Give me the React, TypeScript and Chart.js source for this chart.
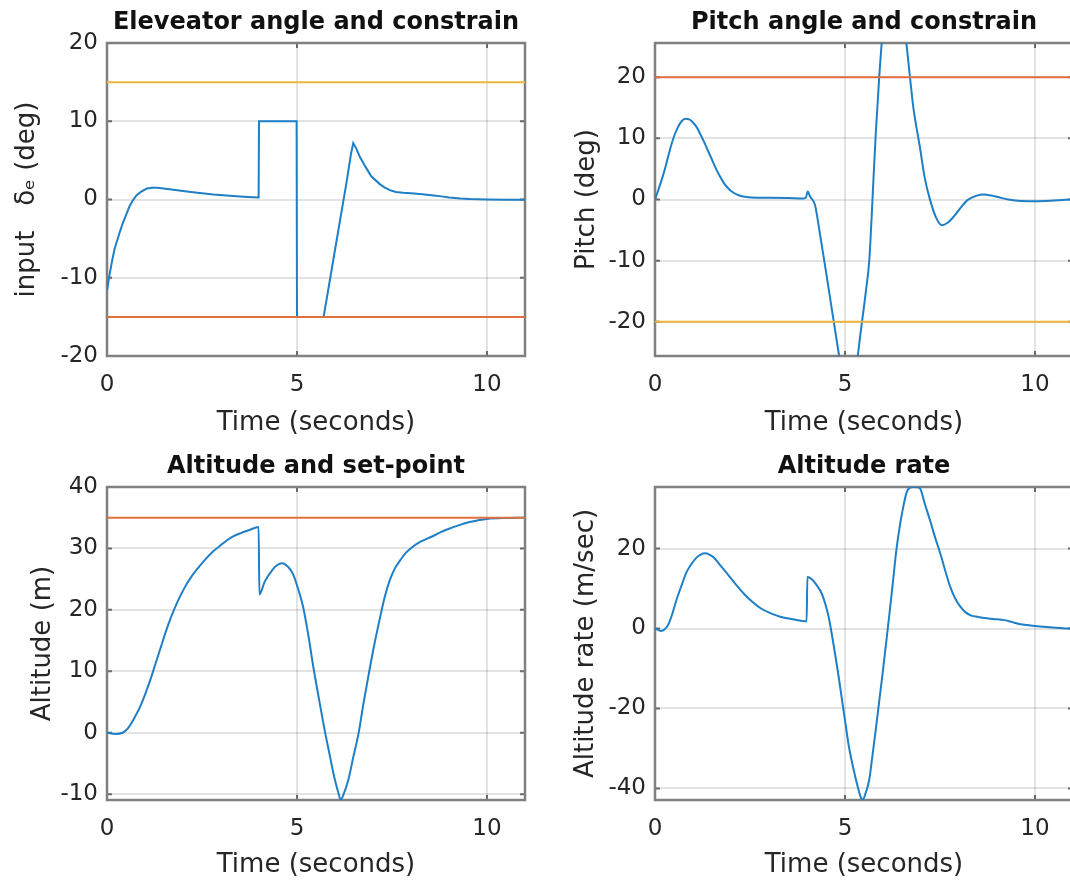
import React, { useEffect, useRef } from 'react';
import { Chart, registerables } from 'chart.js';

Chart.register(...registerables);

// ---------- shared axis data ----------
const X_MIN = 0;
const X_MAX = 11;
const xTickValues = [0, 5, 10];
const xAxisLabel = 'Time (seconds)';

// ---------- Elevator angle ----------
const elevTime = [
  0, 0.07, 0.14, 0.2, 0.27, 0.34, 0.41, 0.5, 0.59, 0.68,
  0.78, 0.9, 1.05, 1.2, 1.32, 1.6, 1.9, 2.15, 2.5, 2.8,
  3.06, 3.4, 3.7, 3.99, 4.0, 4.99, 5.0, 5.7, 6.0, 6.3,
  6.42, 6.48, 6.55, 6.65, 6.8, 6.95, 7.17, 7.3, 7.44, 7.6,
  7.8, 8.08, 8.3, 8.54, 8.8, 9.0, 9.3, 9.54, 10.0, 10.5,
  11.0,
];
const elevValues = [
  -11.6, -9.5, -7.7, -6.3, -5.2, -4.1, -3.1, -2.0, -0.9, -0.1,
  0.55, 1.0, 1.4, 1.5, 1.5, 1.35, 1.15, 1.0, 0.8, 0.65,
  0.55, 0.42, 0.32, 0.25, 10, 10, -15, -15, -6.45, 2.1,
  5.8, 7.2, 6.6, 5.5, 4.2, 3.0, 2.0, 1.55, 1.2, 0.95,
  0.85, 0.77, 0.68, 0.55, 0.4, 0.25, 0.12, 0.05, 0, -0.03,
  -0.02,
];
const elevUpper = 15;
const elevLower = -15;
const elevYTicks = [-20, -10, 0, 10, 20];

// ---------- Pitch angle ----------
const pitchTime = [
  0, 0.1, 0.2, 0.3, 0.4, 0.5, 0.6, 0.7, 0.8, 0.9,
  1.0, 1.1, 1.2, 1.3, 1.4, 1.5, 1.6, 1.7, 1.8, 1.9,
  2.0, 2.2, 2.4, 2.7, 3.0, 3.5, 3.9, 3.97, 4.02, 4.08,
  4.21, 4.35, 4.5, 4.65, 4.8, 4.95, 5.1, 5.25, 5.4, 5.55,
  5.64, 5.7, 5.75, 5.81, 5.9, 6.0, 6.15, 6.3, 6.45, 6.6,
  6.71, 6.8, 6.97, 7.1, 7.24, 7.4, 7.55, 7.7, 7.86, 8.05,
  8.22, 8.45, 8.66, 8.85, 9.02, 9.3, 9.55, 10.0, 10.4, 10.8,
  11.0,
];
const pitchValues = [
  0, 1.8, 3.7, 5.9, 8.3, 10.3, 11.8, 12.8, 13.2, 13.1,
  12.6, 11.8, 10.6, 9.3, 7.9, 6.5, 5.1, 3.9, 2.8, 2.0,
  1.4, 0.7, 0.4, 0.3, 0.3, 0.25, 0.15, 0.3, 1.3, 0.5,
  -0.9, -6.0, -11.8, -17.8, -23.8, -29.5, -34, -29.8, -22.3, -15,
  -9.9, -3, 3.5, 10.8, 20, 28, 35, 38, 34, 26.5,
  20, 15, 8.6, 3.5, -0.1, -3.0, -4.2, -3.8, -2.8, -1.3,
  -0.1, 0.6, 0.8, 0.65, 0.4, 0.0, -0.2, -0.27, -0.2, -0.05,
  0,
];
const pitchUpper = 20;
const pitchLower = -20;
const pitchYTicks = [-20, -10, 0, 10, 20];

// ---------- Altitude ----------
const altTime = [
  0, 0.23, 0.41, 0.55, 0.7, 0.87, 1.0, 1.14, 1.28, 1.42,
  1.55, 1.69, 1.87, 2.05, 2.23, 2.42, 2.6, 2.79, 2.97, 3.15,
  3.33, 3.52, 3.75, 3.99, 4.01, 4.15, 4.34, 4.48, 4.61, 4.75,
  4.89, 5.02, 5.16, 5.3, 5.43, 5.57, 5.71, 5.85, 5.98, 6.08,
  6.15, 6.22, 6.35, 6.48, 6.62, 6.75, 6.89, 7.03, 7.17, 7.3,
  7.44, 7.58, 7.72, 7.85, 7.99, 8.25, 8.54, 8.77, 9.0, 9.27,
  9.54, 9.77, 10.0, 10.5, 11.0,
];
const altValues = [
  0, -0.2, 0, 0.7, 2.2, 4.2, 6.2, 8.6, 11.3, 14.0,
  16.5, 18.9, 21.5, 23.7, 25.5, 27.0, 28.3, 29.5, 30.4, 31.3,
  32.0, 32.5, 33.0, 33.5, 22.5, 24.6, 26.4, 27.3, 27.6, 27.1,
  25.9, 23.6, 20.5, 15.8, 10.7, 5.8, 1.0, -3.3, -7.2, -9.6,
  -10.9, -10.1, -7.7, -4.0, -0.1, 4.8, 9.6, 14.2, 18.3, 21.9,
  24.8, 26.8, 28.1, 29.2, 30.0, 31.1, 31.9, 32.6, 33.2, 33.8,
  34.3, 34.6, 34.8, 34.95, 35.0,
];
const altSetPoint = 35;
const altYTicks = [-10, 0, 10, 20, 30, 40];

// ---------- Altitude rate ----------
const rateTime = [
  0, 0.16, 0.34, 0.45, 0.56, 0.7, 0.83, 0.97, 1.1, 1.2,
  1.32, 1.43, 1.54, 1.72, 1.9, 2.12, 2.34, 2.56, 2.79, 3.05,
  3.32, 3.63, 3.99, 4.01, 4.12, 4.25, 4.39, 4.48, 4.57, 4.66,
  4.75, 4.84, 4.92, 5.01, 5.1, 5.22, 5.33, 5.4, 5.46, 5.55,
  5.64, 5.72, 5.81, 5.9, 5.99, 6.08, 6.17, 6.26, 6.35, 6.44,
  6.53, 6.62, 6.7, 6.8, 6.9, 6.97, 7.1, 7.24, 7.37, 7.51,
  7.64, 7.77, 7.9, 8.04, 8.17, 8.31, 8.5, 8.66, 8.9, 9.2,
  9.4, 9.55, 9.8, 10.0, 10.4, 10.87, 11.0,
];
const rateValues = [
  0, -0.6, 0.8, 3.5, 7.0, 10.8, 14.1, 16.3, 17.8, 18.5,
  18.8, 18.5, 17.8, 15.8, 13.7, 11.1, 8.7, 6.7, 5.0, 3.8,
  2.9, 2.3, 1.8, 12.9, 12.4, 10.9, 8.7, 6.2, 2.9, -1.8,
  -7.0, -12.5, -17.8, -23.6, -29.4, -35.0, -39.4, -41.8, -42.9, -41.0,
  -37.7, -32.0, -25.3, -18.2, -11.2, -3.8, 3.7, 11.5, 19.5, 25.5,
  30.3, 34.0, 35.2, 35.4, 35.35, 35.1, 31.2, 27.0, 22.8, 18.7,
  14.4, 10.4, 7.5, 5.4, 4.1, 3.3, 2.9, 2.65, 2.4, 2.1,
  1.6, 1.2, 0.85, 0.6, 0.3, 0.0, 0.0,
];
const rateYTicks = [-40, -20, 0, 20];

// ---------- styles ----------
const FONT = "'DejaVu Sans', 'Liberation Sans', Arial, sans-serif";
const BLUE = '#1f7fc6';
const ORANGE = '#e0703f';
const YELLOW = '#edb43a';
const TEXT = '#262626';
const GRID = 'rgba(0,0,0,0.11)';
const BOX = '#808080';
const TICKMARK = '#6a6a6a';

type RefLine = { value: number; color: string };
type Cfg = {
  left: number; top: number; w: number; h: number;
  title: string; yLabel: string;
  t: number[]; v: number[]; smooth: boolean;
  refs: RefLine[];
  yMin: number; yMax: number; yTicks: number[];
  yWidth: number; xHeight: number; padRight: number;
  titlePad: { top: number; bottom: number };
  yTitlePad: number;
};

const boxPlugin = {
  id: 'axesBox',
  beforeDatasetsDraw(chart: any) {
    const { ctx, chartArea: a } = chart;
    const xs = chart.scales.x;
    const ys = chart.scales.y;
    ctx.save();
    ctx.strokeStyle = TICKMARK;
    ctx.lineWidth = 2;
    ctx.beginPath();
    xs.ticks.forEach((t: any) => {
      const p = xs.getPixelForValue(t.value);
      ctx.moveTo(p, a.bottom); ctx.lineTo(p, a.bottom - 5);
      ctx.moveTo(p, a.top); ctx.lineTo(p, a.top + 5);
    });
    ys.ticks.forEach((t: any) => {
      const p = ys.getPixelForValue(t.value);
      ctx.moveTo(a.left, p); ctx.lineTo(a.left + 5, p);
      ctx.moveTo(a.right, p); ctx.lineTo(a.right - 5, p);
    });
    ctx.stroke();
    ctx.strokeStyle = BOX;
    ctx.lineWidth = 2.5;
    ctx.strokeRect(a.left, a.top, a.right - a.left, a.bottom - a.top);
    ctx.restore();
  },
};

function makeChart(canvas: HTMLCanvasElement, cfg: Cfg) {
  const series: any = {
    data: cfg.t.map((t, i) => ({ x: t, y: cfg.v[i] })),
    borderColor: BLUE,
    borderWidth: 2,
    pointRadius: 0,
    tension: 0,
    order: 10,
  };
  if (cfg.smooth) series.cubicInterpolationMode = 'monotone';
  const datasets: any[] = [
    ...cfg.refs.map((r, i) => ({
      data: [{ x: X_MIN, y: r.value }, { x: X_MAX, y: r.value }],
      borderColor: r.color,
      borderWidth: 2,
      pointRadius: 0,
      order: i,
    })),
    series,
  ];
  return new Chart(canvas, {
    type: 'line',
    data: { datasets },
    options: {
      animation: false,
      responsive: false,
      layout: { padding: { left: 0, right: cfg.padRight, top: 0, bottom: 0 } },
      plugins: {
        legend: { display: false },
        tooltip: { enabled: false },
        title: {
          display: true,
          text: cfg.title,
          fullSize: false,
          color: '#111111',
          font: { family: FONT, size: 24, weight: 'bold' },
          padding: cfg.titlePad,
        },
      },
      scales: {
        x: {
          type: 'linear',
          min: X_MIN,
          max: X_MAX,
          afterBuildTicks: (s: any) => { s.ticks = xTickValues.map((v) => ({ value: v })); },
          afterFit: (s: any) => { s.height = cfg.xHeight; },
          grid: { color: GRID, lineWidth: 2, drawTicks: false },
          border: { display: false },
          ticks: {
            padding: 15,
            color: TEXT,
            autoSkip: false,
            maxRotation: 0,
            font: { family: FONT, size: 23 },
            callback: (v: any) => String(v),
          },
          title: {
            display: true,
            text: xAxisLabel,
            color: TEXT,
            font: { family: FONT, size: 26 },
            padding: { top: 0, bottom: 3 },
          },
        },
        y: {
          type: 'linear',
          min: cfg.yMin,
          max: cfg.yMax,
          afterBuildTicks: (s: any) => { s.ticks = cfg.yTicks.map((v) => ({ value: v })); },
          afterFit: (s: any) => { s.width = cfg.yWidth; },
          grid: { color: GRID, lineWidth: 2, drawTicks: false },
          border: { display: false },
          ticks: {
            padding: 9,
            color: TEXT,
            autoSkip: false,
            font: { family: FONT, size: 23 },
            callback: (v: any) => String(v),
          },
          title: {
            display: true,
            text: cfg.yLabel,
            color: TEXT,
            font: { family: FONT, size: 26 },
            padding: { top: cfg.yTitlePad, bottom: 0 },
          },
        },
      },
    } as any,
    plugins: [boxPlugin],
  });
}

const subplots: Cfg[] = [
  {
    left: 0, top: 0, w: 540, h: 442,
    title: 'Eleveator angle and constrain',
    yLabel: 'input   δₑ (deg)',
    t: elevTime, v: elevValues, smooth: false,
    refs: [{ value: elevLower, color: ORANGE }, { value: elevUpper, color: YELLOW }],
    yMin: -20, yMax: 20, yTicks: elevYTicks,
    yWidth: 107, xHeight: 86, padRight: 15,
    titlePad: { top: 8.2, bottom: 6 },
    yTitlePad: 12,
  },
  {
    left: 540, top: 0, w: 540, h: 442,
    title: 'Pitch angle and constrain',
    yLabel: 'Pitch (deg)',
    t: pitchTime, v: pitchValues, smooth: true,
    refs: [{ value: pitchUpper, color: ORANGE }, { value: pitchLower, color: YELLOW }],
    yMin: -25.6, yMax: 25.6, yTicks: pitchYTicks,
    yWidth: 115, xHeight: 86, padRight: 7,
    titlePad: { top: 8.2, bottom: 6 },
    yTitlePad: 32,
  },
  {
    left: 0, top: 442, w: 540, h: 442,
    title: 'Altitude and set-point',
    yLabel: 'Altitude (m)',
    t: altTime, v: altValues, smooth: true,
    refs: [{ value: altSetPoint, color: ORANGE }],
    yMin: -10.95, yMax: 40, yTicks: altYTicks,
    yWidth: 107, xHeight: 84, padRight: 15,
    titlePad: { top: 10.2, bottom: 6 },
    yTitlePad: 28,
  },
  {
    left: 540, top: 442, w: 540, h: 442,
    title: 'Altitude rate',
    yLabel: 'Altitude rate (m/sec)',
    t: rateTime, v: rateValues, smooth: true,
    refs: [],
    yMin: -42.9, yMax: 35.4, yTicks: rateYTicks,
    yWidth: 115, xHeight: 84, padRight: 7,
    titlePad: { top: 10.2, bottom: 6 },
    yTitlePad: 31,
  },
];

function Subplot({ cfg }: { cfg: Cfg }) {
  const ref = useRef<HTMLCanvasElement | null>(null);
  useEffect(() => {
    if (!ref.current) return;
    const chart = makeChart(ref.current, cfg);
    return () => chart.destroy();
  }, [cfg]);
  return (
    <canvas
      ref={ref}
      width={cfg.w}
      height={cfg.h}
      style={{ position: 'absolute', left: cfg.left, top: cfg.top, width: cfg.w, height: cfg.h }}
    />
  );
}

export default function App() {
  return (
    <div
      style={{
        position: 'fixed',
        left: 0,
        top: 0,
        width: 1070,
        height: 884,
        overflow: 'hidden',
        background: '#ffffff',
      }}
    >
      {subplots.map((cfg, i) => (
        <Subplot key={i} cfg={cfg} />
      ))}
    </div>
  );
}
